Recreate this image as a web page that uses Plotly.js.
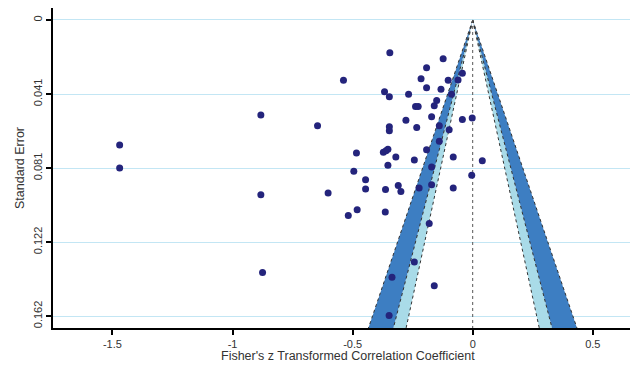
<!DOCTYPE html>
<html>
<head>
<meta charset="utf-8">
<script src="https://cdn.plot.ly/plotly-3.0.1.min.js"></script>
<style>html,body{margin:0;padding:0;background:#fff;}#chart{width:630px;height:369px;}</style>
</head>
<body>
<div id="chart"></div>
<script>
// Study effect sizes (Fisher's z) and standard errors
const fisherZ = [-1.470, -1.470, -0.882, -0.882, -0.875, -0.646, -0.538, -0.345, -0.367, -0.347,
  -0.347, -0.347, -0.267, -0.278, -0.238, -0.227, -0.233, -0.215, -0.192, -0.192,
  -0.160, -0.150, -0.171, -0.139, -0.139, -0.132, -0.123, -0.102, -0.098, -0.088,
  -0.061, -0.043, -0.043, -0.002, -0.484, -0.372, -0.361, -0.353, -0.320, -0.243,
  -0.192, -0.081, 0.040, -0.353, -0.495, -0.171, -0.004, -0.446, -0.602, -0.446,
  -0.363, -0.310, -0.299, -0.223, -0.171, -0.081, -0.481, -0.518, -0.364, -0.181,
  -0.243, -0.336, -0.160, -0.348];
const stdErr = [0.0684, 0.0810, 0.0520, 0.0956, 0.1382, 0.0578, 0.0329, 0.0179, 0.0392, 0.0420,
  0.0584, 0.0606, 0.0406, 0.0549, 0.0473, 0.0473, 0.0588, 0.0321, 0.0261, 0.0370,
  0.0469, 0.0440, 0.0529, 0.0578, 0.0664, 0.0379, 0.0212, 0.0329, 0.0600, 0.0406,
  0.0328, 0.0292, 0.0545, 0.0536, 0.0728, 0.0723, 0.0715, 0.0707, 0.0749, 0.0766,
  0.0710, 0.0749, 0.0770, 0.0795, 0.0828, 0.0804, 0.0850, 0.0874, 0.0946, 0.0925,
  0.0928, 0.0906, 0.0938, 0.0919, 0.0901, 0.0919, 0.1038, 0.1069, 0.1050, 0.1114,
  0.1324, 0.1408, 0.1454, 0.1616];

// Contour levels of the funnel (z critical values for p = 0.10, 0.05, 0.01)
const zLevels = [1.645, 1.96, 2.576];
// Axis ticks
const xTickVals = [-1.5, -1, -0.5, 0, 0.5];
const xTickText = ["-1.5", "-1", "-0.5", "0", "0.5"];
const yTickVals = [0, 0.0405, 0.081, 0.1215, 0.162];
const yTickText = ["0", "0.041", "0.081", "0.122", "0.162"];
const xTitle = "Fisher's z Transformed Correlation Coefficient";
const yTitle = "Standard Error";

const yRange = [0.1685, -0.00656];
const xRange = [-1.7475, 0.655];
const seMax = yRange[0];

const darkBand = "#3d7ec2";
const lightBand = "#a9dbe8";
const traces = [];

function band(zIn, zOut, sign, color) {
  traces.push({
    x: [0, sign * zIn * seMax, sign * zOut * seMax, 0],
    y: [0, seMax, seMax, 0],
    mode: "lines", fill: "toself", fillcolor: color,
    line: {width: 0}, hoverinfo: "skip", showlegend: false
  });
}
[-1, 1].forEach(s => {
  band(zLevels[0], zLevels[1], s, lightBand);
  band(zLevels[1], zLevels[2], s, darkBand);
});
// dotted contour outlines
[-1, 1].forEach(s => {
  zLevels.forEach(z => {
    traces.push({
      x: [0, s * z * seMax], y: [0, seMax], mode: "lines",
      line: {color: "#333", width: 1, dash: "dot"}, hoverinfo: "skip", showlegend: false
    });
  });
});
// vertical dotted line at 0
traces.push({
  x: [0, 0], y: [0, seMax], mode: "lines",
  line: {color: "#555", width: 1, dash: "dot"}, hoverinfo: "skip", showlegend: false
});
// studies
traces.push({
  x: fisherZ, y: stdErr, mode: "markers", type: "scatter",
  marker: {color: "#24247c", size: 7}, showlegend: false
});

const font = {family: "Liberation Sans, Arial, sans-serif", size: 11, color: "#333"};
const titleFont = {family: "Liberation Sans, Arial, sans-serif", size: 12.5, color: "#333"};
const layout = {
  width: 630, height: 369,
  margin: {l: 53, r: 0, t: 8, b: 41},
  paper_bgcolor: "#fff", plot_bgcolor: "#fff",
  font: font,
  showlegend: false,
  xaxis: {
    range: xRange, tickvals: xTickVals, ticktext: xTickText,
    showgrid: false, zeroline: false,
    showline: true, linecolor: "#000", linewidth: 2,
    ticks: "outside", ticklen: 5, tickwidth: 2, tickcolor: "#000",
    tickfont: font,
    automargin: false
  },
  yaxis: {
    range: yRange, tickvals: yTickVals, ticktext: yTickText,
    showgrid: true, gridcolor: "#c3e6f4", gridwidth: 1, zeroline: false,
    showline: true, linecolor: "#000", linewidth: 2,
    ticks: "outside", ticklen: 5, tickwidth: 2, tickcolor: "#000",
    tickangle: -90, tickfont: font,
    title: {text: yTitle, font: titleFont, standoff: 4},
    automargin: false
  },
  annotations: [{
    text: xTitle, font: titleFont, showarrow: false,
    xref: "paper", yref: "paper", x: 0.511, y: -0.0875,
    xanchor: "center", yanchor: "middle"
  }]
};
Plotly.newPlot("chart", traces, layout, {staticPlot: true, displayModeBar: false});
</script>
</body>
</html>
